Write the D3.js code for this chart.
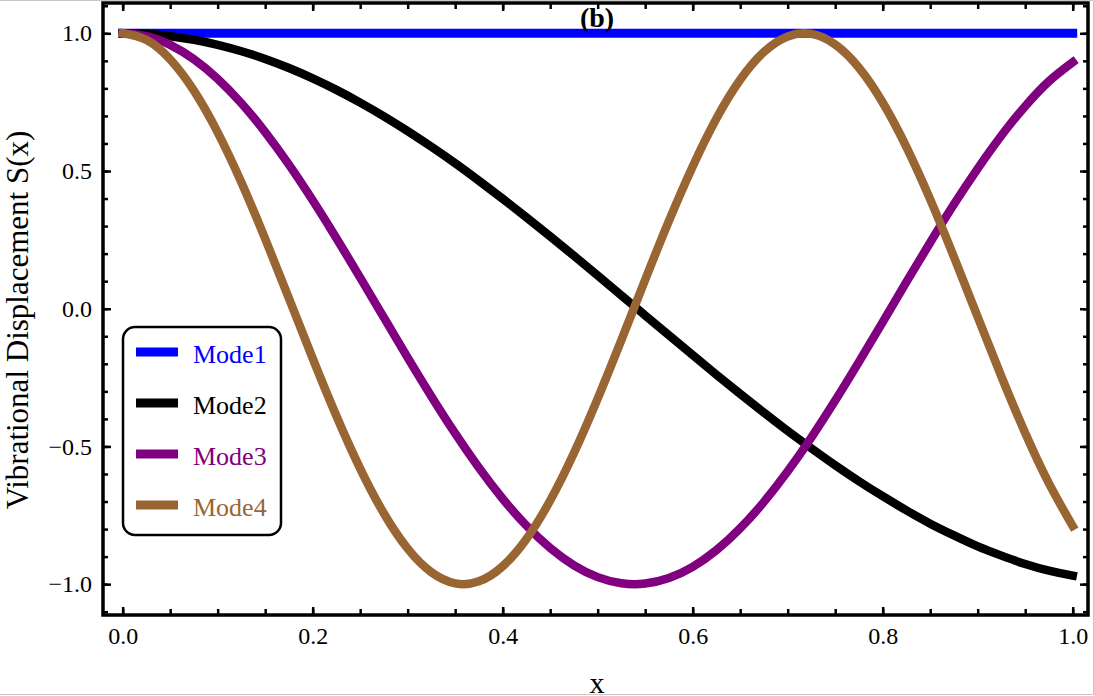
<!DOCTYPE html>
<html>
<head>
<meta charset="utf-8">
<script src="https://cdn.jsdelivr.net/npm/d3@7"></script>
<style>
  body { margin: 0; background: #fff; }
  svg { display: block; font-family: "Liberation Serif", "Times New Roman", serif; }
</style>
</head>
<body>
<div id="graph"></div>
<script>
const xValues = [0, 0.025, 0.05, 0.075, 0.1, 0.125, 0.15, 0.175, 0.2, 0.225,
                 0.25, 0.275, 0.3, 0.325, 0.35, 0.375, 0.4, 0.425, 0.45, 0.475,
                 0.5, 0.525, 0.55, 0.575, 0.6, 0.625, 0.65, 0.675, 0.7, 0.725,
                 0.75, 0.775, 0.8, 0.825, 0.85, 0.875, 0.9, 0.925, 0.95, 0.975, 1.0];

const mode1 = [1, 1, 1, 1, 1, 1, 1, 1, 1, 1,
               1, 1, 1, 1, 1, 1, 1, 1, 1, 1,
               1, 1, 1, 1, 1, 1, 1, 1, 1, 1,
               1, 1, 1, 1, 1, 1, 1, 1, 1, 1, 1];

const mode2 = [1, 0.9974, 0.9895, 0.9764, 0.9582, 0.935, 0.9069, 0.874, 0.8365, 0.7946,
               0.7484, 0.6985, 0.6448, 0.5878, 0.528, 0.4647, 0.3993, 0.3319, 0.2629, 0.1921,
               0.1205, 0.0483, -0.0242, -0.0966, -0.1684, -0.2394, -0.3092, -0.3771, -0.4436, -0.507,
               -0.5683, -0.6262, -0.6808, -0.7323, -0.7803, -0.823, -0.8628, -0.8964, -0.927, -0.9511, -0.969];

const mode3 = [1, 0.9894, 0.9578, 0.9059, 0.8348, 0.746, 0.6413, 0.5232, 0.3937, 0.2562,
               0.1131, -0.0324, -0.1773, -0.3183, -0.4526, -0.5773, -0.6897, -0.7876, -0.8688, -0.9315,
               -0.9744, -0.9967, -0.9979, -0.9779, -0.9372, -0.8766, -0.7973, -0.7012, -0.5903, -0.4668,
               -0.3334, -0.1929, -0.0484, 0.0972, 0.2405, 0.3791, 0.5089, 0.6291, 0.7353, 0.8259, 0.895];

const mode4 = [1, 0.9761, 0.9056, 0.7918, 0.6402, 0.4581, 0.254, 0.0378, -0.1802, -0.3896,
               -0.5803, -0.7434, -0.871, -0.9569, -0.9971, -0.9897, -0.935, -0.8357, -0.6965, -0.5239,
               -0.3262, -0.1132, 0.1054, 0.3189, 0.5167, 0.6908, 0.8314, 0.9323, 0.9886, 0.9977,
               0.9592, 0.8748, 0.7486, 0.5867, 0.3968, 0.1879, -0.03, -0.2464, -0.4511, -0.6342, -0.789];

const seriesNames = ["Mode1", "Mode2", "Mode3", "Mode4"];
const seriesValues = [mode1, mode2, mode3, mode4];
const seriesColors = ["#0000ff", "#000000", "#800080", "#996633"];

const xTicks = [0, 0.2, 0.4, 0.6, 0.8, 1.0];
const yTicks = [-1, -0.5, 0, 0.5, 1];
const xMinorTicks = d3.range(0, 1.001, 0.05);
const yMinorTicks = d3.range(-1.1, 1.101, 0.1);

const titleText = "(b)";
const xLabel = "x";
const yLabel = "Vibrational Displacement S(x)";

// layout
const svgWidth = 1094;
const svgHeight = 696;
const frame = { left: 103, right: 1088, top: 3, bottom: 615 };

const svg = d3.select("#graph")
  .append("svg")
  .attr("width", svgWidth)
  .attr("height", svgHeight);

// light grey border of the exported picture
svg.append("path")
  .attr("d", `M0,0.5H${svgWidth - 0.5}V${svgHeight - 1.5}H0`)
  .attr("fill", "none")
  .attr("stroke", "#c8c8c8")
  .attr("stroke-width", 1);

const xScale = d3.scaleLinear()
  .domain([-0.0207, 1.0161])
  .range([frame.left, frame.right]);

const yScale = d3.scaleLinear()
  .domain([-1.112, 1.11])
  .range([frame.bottom, frame.top]);

// curves
const line = d3.line()
  .x((d) => xScale(d[0]))
  .y((d) => yScale(d[1]))
  .curve(d3.curveNatural);

seriesValues.forEach((vals, i) => {
  svg.append("path")
    .datum(xValues.map((x, j) => [x, vals[j]]))
    .attr("fill", "none")
    .attr("stroke", seriesColors[i])
    .attr("stroke-width", i === 0 ? 9 : 8.5)
    .attr("stroke-linecap", "square")
    .attr("stroke-linejoin", "round")
    .attr("d", line);
});

// frame ticks (all four sides, pointing inward)
const fmt = d3.format(".1f");

function styleAxis(g) {
  g.select(".domain").remove();
  g.selectAll(".tick line").attr("stroke", "#000").attr("stroke-width", 2.5);
  g.selectAll(".tick text")
    .attr("fill", "#000")
    .style("font-family", "'Liberation Serif', serif")
    .style("font-size", "24px");
}

svg.append("g")
  .attr("transform", `translate(0,${frame.bottom})`)
  .call(d3.axisBottom(xScale).tickValues(xMinorTicks).tickSize(-6).tickFormat(""))
  .call(styleAxis);
svg.append("g")
  .attr("transform", `translate(0,${frame.bottom})`)
  .call(d3.axisBottom(xScale).tickValues(xTicks).tickSize(-8).tickPadding(12).tickFormat(fmt))
  .call(styleAxis);

svg.append("g")
  .attr("transform", `translate(0,${frame.top})`)
  .call(d3.axisTop(xScale).tickValues(xMinorTicks).tickSize(-6).tickFormat(""))
  .call(styleAxis);
svg.append("g")
  .attr("transform", `translate(0,${frame.top})`)
  .call(d3.axisTop(xScale).tickValues(xTicks).tickSize(-8).tickFormat(""))
  .call(styleAxis);

svg.append("g")
  .attr("transform", `translate(${frame.left},0)`)
  .call(d3.axisLeft(yScale).tickValues(yMinorTicks).tickSize(-5).tickFormat(""))
  .call(styleAxis);
svg.append("g")
  .attr("transform", `translate(${frame.left},0)`)
  .call(d3.axisLeft(yScale).tickValues(yTicks).tickSize(-8).tickPadding(11).tickFormat(fmt))
  .call(styleAxis);

svg.append("g")
  .attr("transform", `translate(${frame.right},0)`)
  .call(d3.axisRight(yScale).tickValues(yMinorTicks).tickSize(-5).tickFormat(""))
  .call(styleAxis);
svg.append("g")
  .attr("transform", `translate(${frame.right},0)`)
  .call(d3.axisRight(yScale).tickValues(yTicks).tickSize(-8).tickFormat(""))
  .call(styleAxis);

// frame
svg.append("rect")
  .attr("x", frame.left)
  .attr("y", frame.top)
  .attr("width", frame.right - frame.left)
  .attr("height", frame.bottom - frame.top)
  .attr("fill", "none")
  .attr("stroke", "#000")
  .attr("stroke-width", 3.5);

// title and axis labels
svg.append("text")
  .attr("x", 597)
  .attr("y", 27)
  .attr("text-anchor", "middle")
  .attr("font-weight", "bold")
  .attr("font-size", 28)
  .text(titleText);

svg.append("text")
  .attr("x", 597)
  .attr("y", 693)
  .attr("text-anchor", "middle")
  .attr("font-size", 30)
  .text(xLabel);

svg.append("text")
  .attr("transform", "translate(28,320) rotate(-90)")
  .attr("text-anchor", "middle")
  .attr("font-size", 31)
  .text(yLabel);

// legend
const legend = svg.append("g").attr("transform", "translate(123,327)");

legend.append("rect")
  .attr("width", 158)
  .attr("height", 208)
  .attr("rx", 12)
  .attr("fill", "#fff")
  .attr("stroke", "#000")
  .attr("stroke-width", 2.5);

seriesNames.forEach((name, i) => {
  const y = 25 + i * 51;
  legend.append("line")
    .attr("x1", 13)
    .attr("x2", 55)
    .attr("y1", y)
    .attr("y2", y)
    .attr("stroke", seriesColors[i])
    .attr("stroke-width", 9);
  legend.append("text")
    .attr("x", 70)
    .attr("y", y + 11)
    .attr("font-size", 26)
    .attr("fill", seriesColors[i])
    .text(name);
});
</script>
</body>
</html>
